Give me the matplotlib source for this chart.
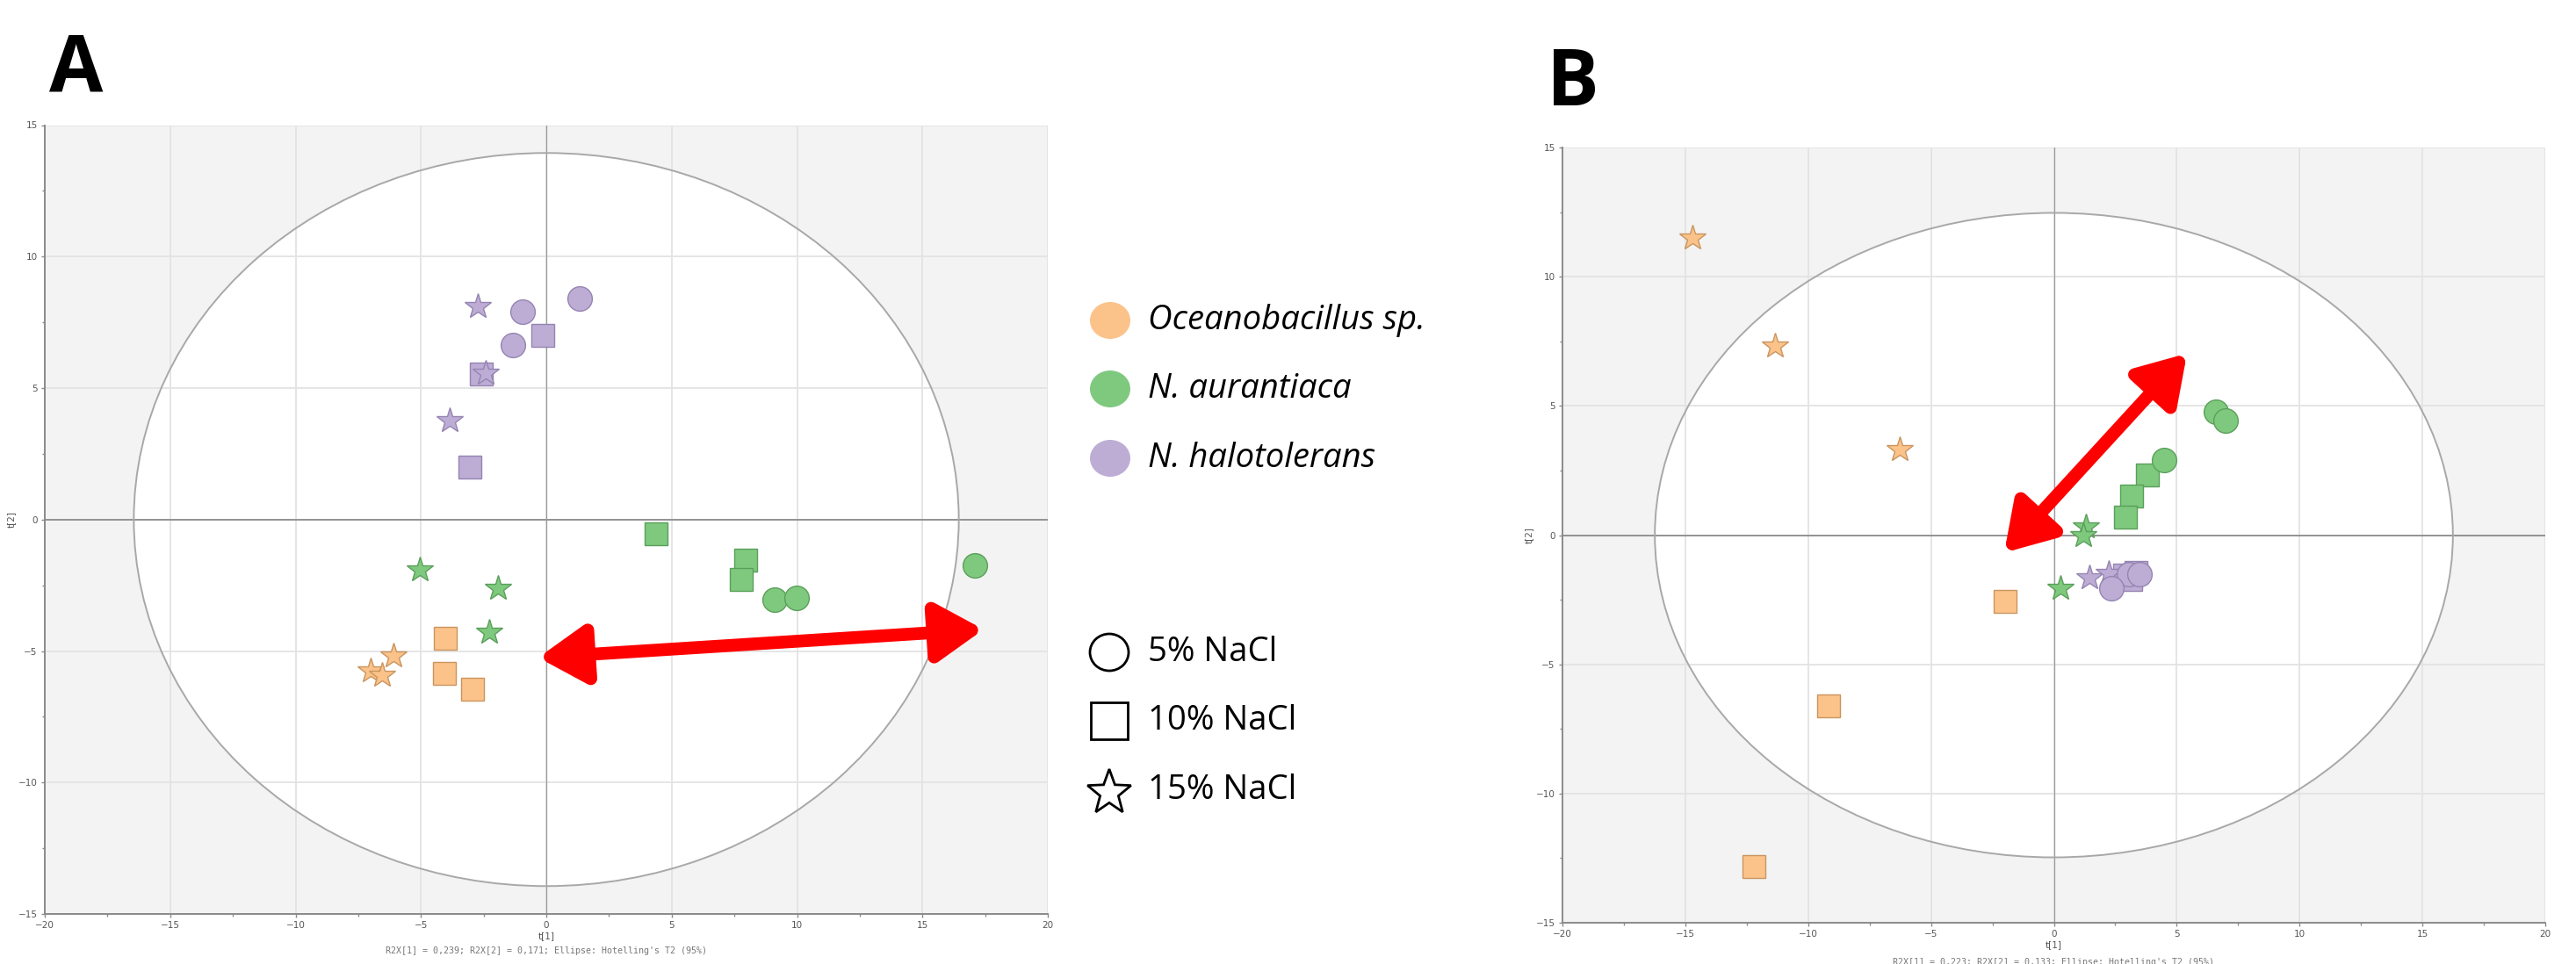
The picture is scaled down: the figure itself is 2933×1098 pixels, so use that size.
import numpy as np
import matplotlib
matplotlib.use('Agg')
import matplotlib.pyplot as plt
from matplotlib.patches import Ellipse, Rectangle, FancyArrowPatch, Polygon
from matplotlib.ticker import MultipleLocator

# ---------------- data ----------------
species = ['Oceanobacillus sp.', 'N. aurantiaca', 'N. halotolerans']
salinity = ['5% NaCl', '10% NaCl', '15% NaCl']
colors = ['#fbc28a', '#7fc97f', '#bdadd5']
edges = ['#c9955f', '#5a9f5a', '#9484b2']
markers = ['o', 's', '*']

# Panel A scores: t[1], t[2]   (species x salinity)
a_ocean_5_t1, a_ocean_5_t2 = [], []
a_ocean_10_t1 = [-4.02, -4.07, -2.94]
a_ocean_10_t2 = [-4.53, -5.86, -6.46]
a_ocean_15_t1 = [-6.09, -7.00, -6.55]
a_ocean_15_t2 = [-5.18, -5.74, -5.91]
a_aur_5_t1 = [9.11, 9.97, 17.10]
a_aur_5_t2 = [-3.06, -2.98, -1.76]
a_aur_10_t1 = [4.39, 7.95, 7.79]
a_aur_10_t2 = [-0.55, -1.53, -2.27]
a_aur_15_t1 = [-5.04, -1.91, -2.29]
a_aur_15_t2 = [-1.92, -2.62, -4.29]
a_hal_5_t1 = [-0.94, 1.32, -1.34]
a_hal_5_t2 = [7.89, 8.41, 6.65]
a_hal_10_t1 = [-0.13, -2.58, -3.06]
a_hal_10_t2 = [7.01, 5.54, 1.98]
a_hal_15_t1 = [-2.74, -2.42, -3.84]
a_hal_15_t2 = [8.09, 5.56, 3.77]

# Panel B scores
b_ocean_5_t1, b_ocean_5_t2 = [], []
b_ocean_10_t1 = [-1.99, -9.16, -12.19]
b_ocean_10_t2 = [-2.57, -6.60, -12.84]
b_ocean_15_t1 = [-14.72, -11.35, -6.29]
b_ocean_15_t2 = [11.49, 7.33, 3.30]
b_aur_5_t1 = [6.60, 6.99, 4.47]
b_aur_5_t2 = [4.76, 4.42, 2.91]
b_aur_10_t1 = [3.82, 3.15, 2.93]
b_aur_10_t2 = [2.32, 1.50, 0.70]
b_aur_15_t1 = [1.31, 1.20, 0.27]
b_aur_15_t2 = [0.32, -0.02, -2.04]
b_hal_5_t1 = [3.04, 3.49, 2.33]
b_hal_5_t2 = [-1.51, -1.50, -2.07]
b_hal_10_t1 = [2.87, 3.13, 3.35]
b_hal_10_t2 = [-1.53, -1.70, -1.45]
b_hal_15_t1 = [1.44, 2.24]
b_hal_15_t2 = [-1.66, -1.49]

# Hotelling's T2 (95%) ellipse semi-axes
a_ellipse = (16.45, 13.94)
b_ellipse = (16.24, 12.47)

# arrows (tail, head) in score coordinates
a_arrow = [(-0.32, -5.25), (17.44, -4.18)]
b_arrow = [(-2.02, -0.68), (5.42, 7.03)]

x_ticks = [-20, -15, -10, -5, 0, 5, 10, 15, 20]
y_ticks = [-15, -10, -5, 0, 5, 10, 15]

a_note = "R2X[1] = 0,239; R2X[2] = 0,171; Ellipse: Hotelling's T2 (95%)"
b_note = "R2X[1] = 0,223; R2X[2] = 0,133; Ellipse: Hotelling's T2 (95%)"

panelA = {
    (0, 0): (a_ocean_5_t1, a_ocean_5_t2), (0, 1): (a_ocean_10_t1, a_ocean_10_t2), (0, 2): (a_ocean_15_t1, a_ocean_15_t2),
    (1, 0): (a_aur_5_t1, a_aur_5_t2), (1, 1): (a_aur_10_t1, a_aur_10_t2), (1, 2): (a_aur_15_t1, a_aur_15_t2),
    (2, 0): (a_hal_5_t1, a_hal_5_t2), (2, 1): (a_hal_10_t1, a_hal_10_t2), (2, 2): (a_hal_15_t1, a_hal_15_t2),
}
panelB = {
    (0, 0): (b_ocean_5_t1, b_ocean_5_t2), (0, 1): (b_ocean_10_t1, b_ocean_10_t2), (0, 2): (b_ocean_15_t1, b_ocean_15_t2),
    (1, 0): (b_aur_5_t1, b_aur_5_t2), (1, 1): (b_aur_10_t1, b_aur_10_t2), (1, 2): (b_aur_15_t1, b_aur_15_t2),
    (2, 0): (b_hal_5_t1, b_hal_5_t2), (2, 1): (b_hal_10_t1, b_hal_10_t2), (2, 2): (b_hal_15_t1, b_hal_15_t2),
}

W, H = 2933, 1098
fig = plt.figure(figsize=(W / 100, H / 100), dpi=100)
fig.patch.set_facecolor('white')


def px_rect(x0, y0, x1, y1):
    return [x0 / W, 1 - y1 / H, (x1 - x0) / W, (y1 - y0) / H]


tick_col = '#555555'
msizes = {'o': 20, 's': 19, '*': 22}


def draw_panel(rect, data, ell, arrow):
    ax = fig.add_axes(rect)
    ax.set_xlim(-20, 20)
    ax.set_ylim(-15, 15)
    ax.set_facecolor('#f3f3f3')
    ax.add_patch(Ellipse((0, 0), 2 * ell[0], 2 * ell[1], facecolor='white', edgecolor='none', zorder=0.2))
    ax.set_axisbelow(True)
    ax.grid(True, which='major', color='#e3e3e3', lw=1.3)
    ax.axhline(0, color='#8c8c8c', lw=1.3, zorder=1)
    ax.axvline(0, color='#9a9a9a', lw=0.9, zorder=1)
    ax.add_patch(Ellipse((0, 0), 2 * ell[0], 2 * ell[1], facecolor='none', edgecolor='#a8a8a8', lw=1.4, zorder=1.5))
    for sp in ['top', 'right']:
        ax.spines[sp].set_visible(False)
    for sp in ['left', 'bottom']:
        ax.spines[sp].set_color('#8a8a8a')
        ax.spines[sp].set_linewidth(1.4)
    ax.set_xticks(x_ticks)
    ax.set_yticks(y_ticks)
    ax.xaxis.set_minor_locator(MultipleLocator(2.5))
    ax.yaxis.set_minor_locator(MultipleLocator(2.5))
    ax.tick_params(which='major', length=3, width=1, color='#8a8a8a', labelsize=7.5, labelcolor=tick_col, pad=3)
    ax.tick_params(which='minor', length=2.5, width=1, color='#8a8a8a')
    ax.set_xlabel('t[1]', fontsize=7.5, color=tick_col, labelpad=1)
    ax.set_ylabel('t[2]', fontsize=7.5, color=tick_col, labelpad=2)
    # markers: squares, stars, circles
    for mi in [1, 2, 0]:
        for si in range(3):
            xs, ys = data[(si, mi)]
            if len(xs) == 0:
                continue
            ax.plot(xs, ys, ls='none', marker=markers[mi], ms=msizes[markers[mi]],
                    mfc=colors[si], mec=edges[si], mew=1.0, zorder=3)
    arr = FancyArrowPatch(arrow[0], arrow[1], arrowstyle='<|-|>,head_length=0.8,head_width=0.5',
                          mutation_scale=40, color='#ff0000', lw=10.5, zorder=4, shrinkA=0, shrinkB=0)
    ax.add_patch(arr)
    return ax


axA = draw_panel(px_rect(51, 142.5, 1193, 1041), panelA, a_ellipse, a_arrow)
axB = draw_panel(px_rect(1779, 168, 2898, 1051), panelB, b_ellipse, b_arrow)

fig.text(622 / W, 1 - 1083 / H, a_note, family='DejaVu Sans Mono', fontsize=7.2, color='#777777',
         ha='center', va='center')
fig.text(2338 / W, 1 - 1096 / H, b_note, family='DejaVu Sans Mono', fontsize=7.2, color='#777777',
         ha='center', va='center')

# panel letters
fig.text(56 / W, 1 - 103 / H, 'A', fontsize=64, fontweight='bold', family='Open Sans', va='baseline', ha='left')
fig.text(1761 / W, 1 - 120 / H, 'B', fontsize=64, fontweight='bold', family='Open Sans', va='baseline', ha='left')

# legend (pixel-coordinate axes)
lx0, ly0, lx1, ly1 = 1200, 300, 1750, 960
lax = fig.add_axes(px_rect(lx0, ly0, lx1, ly1))
lax.set_xlim(lx0, lx1)
lax.set_ylim(ly1, ly0)
lax.axis('off')
sp_y = [365, 443, 522]
for si in range(3):
    lax.add_patch(Ellipse((1264, sp_y[si]), 46, 42, facecolor=colors[si], edgecolor='none'))
    lax.text(1307, sp_y[si], species[si], fontsize=27.5, style='italic', family='Open Sans',
             va='center', ha='left')
sal_y = [743, 821, 900]
lax.add_patch(Ellipse((1263, sal_y[0]), 44, 42, facecolor='white', edgecolor='black', lw=2))
lax.add_patch(Rectangle((1242, sal_y[1] - 21), 42, 42, facecolor='white', edgecolor='black', lw=2))
ang = np.pi / 2 + np.arange(10) * np.pi / 5
rad = np.where(np.arange(10) % 2 == 0, 1.0, 0.42)
star_xy = np.column_stack([1263 + 26 * rad * np.cos(ang), sal_y[2] + 3 - 27 * rad * np.sin(ang)])
lax.add_patch(Polygon(star_xy, closed=True, facecolor='white', edgecolor='black', lw=2))
for i in range(3):
    lax.text(1307, sal_y[i], salinity[i], fontsize=27.5, family='Open Sans', va='center', ha='left')

fig.savefig('out.png', dpi=100)
